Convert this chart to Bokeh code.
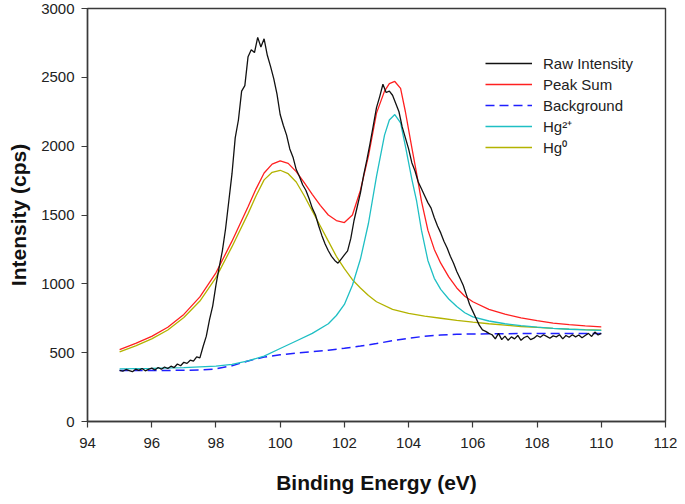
from bokeh.plotting import figure
from bokeh.models import FixedTicker, Legend, LegendItem, Range1d
from bokeh.embed import file_html
from bokeh.resources import INLINE

# ---------------- data ----------------
x_ticks = [94, 96, 98, 100, 102, 104, 106, 108, 110, 112]
y_ticks = [0, 500, 1000, 1500, 2000, 2500, 3000]

raw_start = 95.0
raw_step = 0.1
raw_intensity = [
    372, 365, 378, 370, 362, 380, 371, 385, 368, 379,      # 95.0-95.9
    388, 374, 392, 380, 396, 385, 402, 392, 418, 405,      # 96.0-96.9
    430, 422, 445, 438, 470, 462, 545, 620, 740, 840,      # 97.0-97.9
    990, 1120, 1240, 1400, 1600, 1800, 2060, 2190, 2400, 2440,  # 98.0-98.9
    2650, 2700, 2680, 2790, 2720, 2780, 2660, 2580, 2490, 2380,  # 99.0-99.9
    2230, 2150, 2080, 1980, 1920, 1830, 1780, 1720, 1680, 1620,  # 100.0-100.9
    1550, 1500, 1420, 1350, 1290, 1240, 1200, 1170, 1150, 1180,  # 101.0-101.9
    1210, 1240, 1330, 1460, 1560, 1660, 1790, 1900, 2020, 2150,  # 102.0-102.9
    2280, 2360, 2450, 2390, 2400, 2370, 2310, 2250, 2140, 2060,  # 103.0-103.9
    1980, 1880, 1820, 1740, 1690, 1640, 1590, 1550, 1480, 1420,  # 104.0-104.9
    1370, 1310, 1260, 1200, 1150, 1090, 1040, 990, 920, 850,     # 105.0-105.9
    800, 750, 700, 665, 655, 640, 630, 600, 640, 595,            # 106.0-106.9
    620, 590, 615, 600, 625, 590, 610, 620, 595, 605,            # 107.0-107.9
    625, 612, 630, 618, 605, 622, 615, 630, 600, 625,            # 108.0-108.9
    612, 630, 615, 628, 608, 625, 640, 618, 650, 628,            # 109.0-109.9
    640,                                                         # 110.0
]
raw_energy = [round(raw_start + i * raw_step, 2) for i in range(len(raw_intensity))]

sum_energy = [95.0, 95.5, 96.0, 96.5, 97.0, 97.5, 98.0, 98.5, 99.0, 99.25, 99.5, 99.75,
              100.0, 100.25, 100.5, 100.75, 101.0, 101.25, 101.5, 101.75, 102.0, 102.25,
              102.5, 102.75, 103.0, 103.25, 103.4, 103.57, 103.75, 103.9, 104.1, 104.25,
              104.4, 104.6, 104.8, 105.0, 105.25, 105.5, 105.75, 106.0, 106.5, 107.0,
              107.5, 108.0, 108.5, 109.0, 109.5, 110.0]
sum_intensity = [522, 567, 618, 685, 778, 905, 1080, 1310, 1560, 1690, 1805, 1870,
                 1893, 1875, 1815, 1735, 1650, 1570, 1500, 1460, 1445, 1500,
                 1680, 1930, 2240, 2400, 2455, 2470, 2420, 2250, 1990, 1800,
                 1600, 1390, 1250, 1150, 1050, 970, 910, 870, 815, 780,
                 752, 732, 715, 703, 694, 687]

bg_energy = [95.0, 96.0, 97.0, 97.5, 98.0, 98.5, 99.0, 99.5, 100.0, 100.5, 101.0, 101.5,
             102.0, 102.5, 103.0, 103.5, 104.0, 104.5, 105.0, 105.5, 106.0, 107.0, 108.0, 110.0]
bg_intensity = [370, 370, 372, 374, 382, 405, 440, 468, 485, 497, 508, 518,
                532, 548, 566, 587, 605, 619, 628, 633, 636, 638, 639, 640]

hg2_energy = [95.0, 96.0, 97.0, 98.0, 98.5, 99.0, 99.5, 100.0, 100.5, 101.0, 101.5, 101.75,
              102.0, 102.25, 102.5, 102.75, 103.0, 103.25, 103.4, 103.57, 103.75, 103.9,
              104.1, 104.25, 104.4, 104.6, 104.8, 105.0, 105.25, 105.5, 105.75, 106.0,
              106.5, 107.0, 107.5, 108.0, 108.5, 109.0, 109.5, 110.0]
hg2_intensity = [382, 386, 391, 402, 415, 440, 475, 530, 585, 640, 710, 770,
                 850, 990, 1180, 1440, 1780, 2080, 2190, 2230, 2170, 2000,
                 1760, 1600, 1390, 1170, 1040, 960, 890, 835, 790, 760,
                 730, 710, 697, 685, 677, 670, 665, 662]

hg0_energy = [95.0, 95.5, 96.0, 96.5, 97.0, 97.5, 98.0, 98.5, 99.0, 99.25, 99.5, 99.75,
              100.0, 100.25, 100.5, 100.75, 101.0, 101.25, 101.5, 101.75, 102.0, 102.25,
              102.5, 102.75, 103.0, 103.5, 104.0, 104.5, 105.0, 105.5, 106.0, 106.5,
              107.0, 107.5, 108.0, 108.5, 109.0, 109.5, 110.0]
hg0_intensity = [506, 550, 600, 665, 755, 875, 1045, 1270, 1510, 1640, 1755, 1810,
                 1825, 1800, 1740, 1640, 1530, 1420, 1310, 1200, 1110, 1030,
                 970, 915, 870, 815, 785, 765, 750, 735, 722, 710,
                 700, 690, 683, 676, 671, 667, 664]

series_labels = ["Raw Intensity", "Peak Sum", "Background", "Hg\u00b2\u207a", "Hg\u2070"]

# ---------------- figure ----------------
FONT = "Liberation Sans"
p = figure(width=677, height=496, output_backend="svg", toolbar_location=None,
           x_range=Range1d(94, 112), y_range=Range1d(0, 3000),
           min_border_left=87, min_border_right=12, min_border_top=8, min_border_bottom=60)

p.xgrid.visible = False
p.ygrid.visible = False
p.outline_line_color = "#3a3a3a"
p.outline_line_width = 1.4
p.background_fill_color = "white"
p.border_fill_color = "white"

for ax in (p.xaxis[0], p.yaxis[0]):
    ax.axis_line_color = "#3a3a3a"
    ax.axis_line_width = 1.4
    ax.major_tick_line_color = "#3a3a3a"
    ax.major_tick_line_width = 1.2
    ax.major_tick_out = 6
    ax.major_tick_in = 0
    ax.minor_tick_line_color = None
    ax.major_label_text_font = FONT
    ax.major_label_text_font_size = "15px"
    ax.major_label_text_color = "#222222"
    ax.axis_label_text_font = FONT
    ax.axis_label_text_font_size = "21px"
    ax.axis_label_text_font_style = "bold"
    ax.axis_label_text_color = "#111111"

p.xaxis[0].ticker = FixedTicker(ticks=x_ticks)
p.yaxis[0].ticker = FixedTicker(ticks=y_ticks)
p.xaxis[0].axis_label = "Binding Energy (eV)"
p.yaxis[0].axis_label = "Intensity (cps)"
p.xaxis[0].major_label_standoff = 10
p.xaxis[0].axis_label_standoff = 20
p.yaxis[0].major_label_standoff = 7
p.yaxis[0].axis_label_standoff = 8

r_bg = p.line(bg_energy, bg_intensity, line_color="#1f1fff", line_width=1.5, line_dash="9 5")
r_hg0 = p.line(hg0_energy, hg0_intensity, line_color="#b3b300", line_width=1.3)
r_hg2 = p.line(hg2_energy, hg2_intensity, line_color="#1fbfc4", line_width=1.3)
r_sum = p.line(sum_energy, sum_intensity, line_color="#ff2020", line_width=1.3)
r_raw = p.line(raw_energy, raw_intensity, line_color="#111111", line_width=1.3)

legend = Legend(items=[
    LegendItem(label=series_labels[0], renderers=[r_raw]),
    LegendItem(label=series_labels[1], renderers=[r_sum]),
    LegendItem(label=series_labels[2], renderers=[r_bg]),
    LegendItem(label=series_labels[3], renderers=[r_hg2]),
    LegendItem(label=series_labels[4], renderers=[r_hg0]),
], location=(398, 264))
legend.border_line_color = None
legend.background_fill_alpha = 0
legend.label_text_font = FONT
legend.label_text_font_size = "15px"
legend.label_text_color = "#222222"
legend.glyph_width = 47
legend.glyph_height = 20
legend.label_height = 20
legend.label_standoff = 11
legend.spacing = 1
legend.padding = 5
legend.margin = 0
p.add_layout(legend)

open("out.html", "w").write(file_html(p, INLINE))
